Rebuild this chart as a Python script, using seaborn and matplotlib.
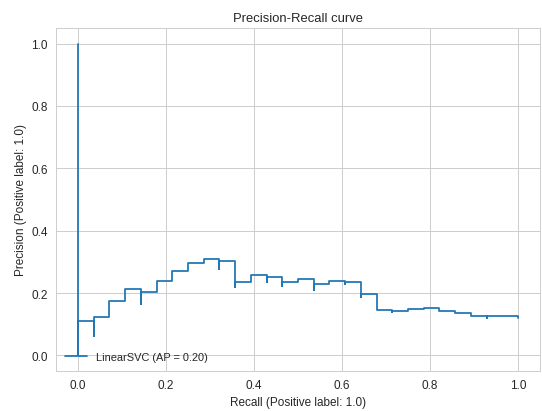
import matplotlib
matplotlib.use("Agg")
import matplotlib.pyplot as plt
import seaborn as sns
import pandas as pd

# Recall levels (k/28 positives) and precision range at each level
recall_levels = [0.0, 0.036, 0.071, 0.107, 0.143, 0.179, 0.214, 0.25, 0.286, 0.321,
                 0.357, 0.393, 0.429, 0.464, 0.5, 0.536, 0.571, 0.607, 0.643, 0.679,
                 0.714, 0.75, 0.786, 0.821, 0.857, 0.893, 0.929, 0.964, 1.0]
prec_low = [0.0, 0.063, 0.123, 0.173, 0.166, 0.203, 0.239, 0.270, 0.296, 0.278,
            0.219, 0.235, 0.235, 0.222, 0.237, 0.210, 0.229, 0.228, 0.187, 0.198,
            0.138, 0.142, 0.150, 0.153, 0.144, 0.136, 0.121, 0.125, 0.119]
prec_high = [1.0, 0.109, 0.123, 0.173, 0.212, 0.203, 0.239, 0.270, 0.296, 0.308,
             0.302, 0.235, 0.259, 0.251, 0.237, 0.245, 0.229, 0.239, 0.236, 0.198,
             0.145, 0.142, 0.150, 0.153, 0.144, 0.136, 0.126, 0.125, 0.125]
label = "LinearSVC (AP = 0.20)"

# Build curve in decreasing-recall order (as a PR curve is returned)
rec, prec = [], []
for r, lo, hi in reversed(list(zip(recall_levels, prec_low, prec_high))):
    rec.append(r); prec.append(lo)
    if hi != lo:
        rec.append(r); prec.append(hi)
df = pd.DataFrame({"Recall": rec, "Precision": prec})

sns.set_style("whitegrid")
plt.rcParams["font.family"] = ["Liberation Sans", "DejaVu Sans"]

fig = plt.figure(figsize=(542 / 85, 412 / 85), dpi=85)
ax = fig.add_axes([56 / 542, 1 - 372 / 412, (540 - 56) / 542, (372 - 29) / 412])
sns.lineplot(data=df, x="Recall", y="Precision", sort=False, estimator=None,
             drawstyle="steps-post", color="#1f77b4", linewidth=1.5, label=label, ax=ax)
ax.set_xlabel("Recall (Positive label: 1.0)")
ax.set_ylabel("Precision (Positive label: 1.0)")
ax.set_title("Precision-Recall curve", fontsize=11)
ax.set_xlim(-0.05, 1.05)
ax.set_ylim(-0.05, 1.05)
ax.legend(loc="lower left", frameon=False, fontsize=9.3, borderaxespad=0.4)
fig.savefig("out.png", dpi=85)
